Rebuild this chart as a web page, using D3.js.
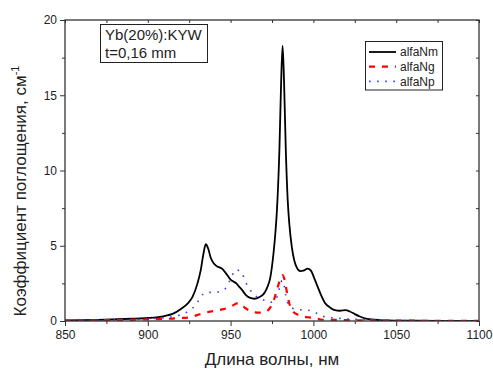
<!DOCTYPE html>
<html><head><meta charset="utf-8">
<script src="https://cdn.jsdelivr.net/npm/d3@7"></script>
<style>body{margin:0;background:#fff}svg{display:block}text{font-family:"Liberation Sans",Arial,sans-serif;fill:#222}</style>
</head><body><svg id="c" width="493" height="370"></svg>
<script>
const wavelength = [850,870,890,900,910,915,920,924,927,930,932,933.5,935,936.5,938,940,942,944.5,947,950,952,953.5,955,957,959,961.5,964.5,967.5,970,972,974,976,977,978,979.5,980.5,981.4,982.3,983.3,984.5,985.5,987,988.5,990,992,994,996.5,998.5,1000.5,1002.5,1004.5,1007,1010,1013,1016,1019.5,1022,1025,1028,1031,1035,1040,1045,1050,1060,1075,1100];
const alfaNm = [0.04,0.08,0.15,0.2,0.33,0.47,0.8,1.15,1.6,2.5,3.4,4.4,5.1,4.8,4.2,3.8,3.62,3.5,3.2,2.75,2.6,2.5,2.3,2.05,1.75,1.55,1.48,1.6,1.8,2.2,2.9,4.6,5.8,7.4,11.5,15.8,18.3,15.8,11.5,8.0,6.4,4.9,4.0,3.55,3.32,3.35,3.48,3.35,2.85,2.3,1.75,1.2,0.9,0.72,0.68,0.72,0.63,0.46,0.3,0.18,0.1,0.06,0.04,0.03,0.02,0.01,0.01];
const alfaNg = [0.03,0.05,0.08,0.11,0.14,0.16,0.2,0.23,0.3,0.4,0.47,0.52,0.56,0.6,0.63,0.67,0.7,0.76,0.83,0.95,1.07,1.16,1.2,1.05,0.85,0.68,0.58,0.55,0.56,0.65,0.9,1.35,1.7,2.05,2.65,2.95,3.05,2.85,2.35,1.6,1.15,0.75,0.55,0.45,0.37,0.3,0.25,0.22,0.18,0.14,0.1,0.08,0.07,0.07,0.07,0.06,0.06,0.05,0.05,0.04,0.04,0.03,0.03,0.02,0.02,0.01,0.01];
const alfaNp = [0.04,0.06,0.1,0.14,0.22,0.28,0.42,0.62,0.85,1.25,1.62,1.8,1.88,1.9,1.9,1.9,1.92,2.0,2.17,2.8,3.25,3.42,3.35,3.15,2.6,2.12,1.72,1.5,1.4,1.32,1.24,1.3,1.45,1.6,2.2,2.6,2.7,2.35,1.7,1.2,1.02,0.88,0.8,0.78,0.75,0.73,0.72,0.68,0.6,0.48,0.36,0.28,0.22,0.2,0.17,0.14,0.13,0.12,0.1,0.09,0.07,0.05,0.04,0.03,0.02,0.01,0.01];
const xMajor = [850,900,950,1000,1050,1100];
const xMinor = [875,925,975,1025,1075];
const yMajor = [0,5,10,15,20];
const yMinor = [2.5,7.5,12.5,17.5];
const seriesNames = ["alfaNm","alfaNg","alfaNp"];
const annotation = ["Yb(20%):KYW","t=0,16 mm"];

const svg = d3.select("#c");
const L=65,R=479,T=20,B=321;
const x = d3.scaleLinear().domain([850,1100]).range([L,R]);
const y = d3.scaleLinear().domain([0,20]).range([B,T]);
const axisCol="#333";

function styleAxis(g){g.select(".domain").remove();g.selectAll("line").attr("stroke",axisCol).attr("stroke-width",1);g.selectAll("text").attr("font-size",12).attr("fill","#222");}
svg.append("g").attr("transform",`translate(0,${B})`).call(d3.axisBottom(x).tickValues(xMajor).tickSize(5).tickPadding(4).tickFormat(d3.format("d"))).call(styleAxis);
svg.append("g").attr("transform",`translate(0,${B})`).call(d3.axisBottom(x).tickValues(xMinor).tickSize(3).tickFormat("")).call(styleAxis);
svg.append("g").attr("transform",`translate(${L},0)`).call(d3.axisLeft(y).tickValues(yMajor).tickSize(5).tickPadding(3)).call(styleAxis);
svg.append("g").attr("transform",`translate(${L},0)`).call(d3.axisLeft(y).tickValues(yMinor).tickSize(3).tickFormat("")).call(styleAxis);
svg.append("g").attr("transform",`translate(0,${T})`).call(d3.axisTop(x).tickValues(xMajor.concat(xMinor)).tickSize(-3).tickFormat("")).call(styleAxis);
svg.append("g").attr("transform",`translate(${R},0)`).call(d3.axisRight(y).tickValues(yMajor.concat(yMinor)).tickSize(-3).tickFormat("")).call(styleAxis);

svg.append("defs").append("clipPath").attr("id","cp").append("rect").attr("x",L).attr("y",T-2).attr("width",R-L).attr("height",B-T+2);
const line = d3.line().x((d,i)=>x(wavelength[i])).y(d=>y(d)).curve(d3.curveMonotoneX);
const g = svg.append("g").attr("clip-path","url(#cp)");
const styles = [
 {c:"#000",w:1.8,da:null},
 {c:"#ff0000",w:2.2,da:"6,7"},
 {c:"#3a3aff",w:1.6,da:"1.6,6.5"}
];
[alfaNm,alfaNg,alfaNp].forEach((s,k)=>{
  g.append("path").attr("d",line(s)).attr("fill","none").attr("stroke",styles[k].c).attr("stroke-width",styles[k].w).attr("stroke-dasharray",styles[k].da).attr("stroke-linejoin","round");
});
svg.append("rect").attr("x",L).attr("y",T).attr("width",R-L).attr("height",B-T).attr("fill","none").attr("stroke",axisCol).attr("stroke-width",1.3);

svg.append("rect").attr("x",100.5).attr("y",24.5).attr("width",107).attr("height",38).attr("fill","#fff").attr("stroke","#222").attr("stroke-width",1);
annotation.forEach((t,i)=>svg.append("text").attr("x",105).attr("y",40+i*18).attr("font-size",15).text(t));

svg.append("rect").attr("x",365.5).attr("y",41.5).attr("width",77).attr("height",48.5).attr("fill","#fff").attr("stroke","#222").attr("stroke-width",1);
seriesNames.forEach((n,i)=>{
  const yy=52+i*14.7;
  svg.append("line").attr("x1",369).attr("x2",396).attr("y1",yy).attr("y2",yy).attr("stroke",styles[i].c).attr("stroke-width",styles[i].w).attr("stroke-dasharray",styles[i].da);
  svg.append("text").attr("x",400).attr("y",yy+4.3).attr("font-size",12).text(n);
});

svg.append("text").attr("x",(L+R)/2).attr("y",365).attr("text-anchor","middle").attr("font-size",17).text("Длина волны, нм");
const yt = svg.append("text").attr("transform","translate(26,191) rotate(-90)").attr("text-anchor","middle").attr("font-size",17);
yt.append("tspan").text("Коэффициент поглощения, см");
yt.append("tspan").attr("dy",-7).attr("font-size",11).text("-1");
</script></body></html>
